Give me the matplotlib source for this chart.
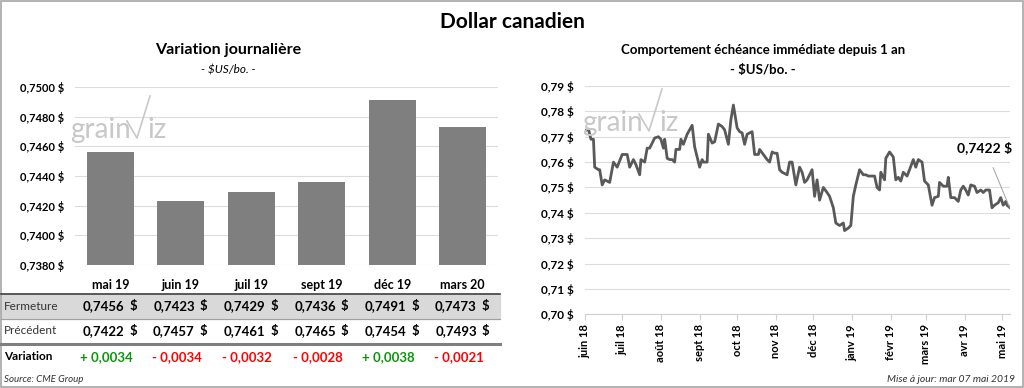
import matplotlib
matplotlib.use("Agg")
import matplotlib.pyplot as plt
import matplotlib.transforms as mtransforms
from matplotlib.lines import Line2D
from matplotlib.patches import Rectangle
import pandas as pd

plt.rcParams['font.family'] = ['Lato', 'DejaVu Sans']

# Variation journalière
echeances = ["mai 19", "juin 19", "juil 19", "sept 19", "déc 19", "mars 20"]
fermeture = [0.7456, 0.7423, 0.7429, 0.7436, 0.7491, 0.7473]
precedent = [0.7422, 0.7457, 0.7461, 0.7465, 0.7454, 0.7493]
variation = [0.0034, -0.0034, -0.0032, -0.0028, 0.0038, -0.0021]
bar_ticks = [0.7380, 0.7400, 0.7420, 0.7440, 0.7460, 0.7480, 0.7500]

# Échéance immédiate depuis 1 an
dates = ["2018-06-01", "2018-06-04", "2018-06-06", "2018-06-08", "2018-06-09", "2018-06-12",
         "2018-06-13", "2018-06-15", "2018-06-17", "2018-06-21", "2018-06-24", "2018-06-27",
         "2018-07-01", "2018-07-05", "2018-07-07", "2018-07-10", "2018-07-12", "2018-07-15",
         "2018-07-16", "2018-07-19", "2018-07-21", "2018-07-23", "2018-07-25", "2018-07-27",
         "2018-07-30", "2018-08-01", "2018-08-03", "2018-08-04", "2018-08-06", "2018-08-08",
         "2018-08-10", "2018-08-12", "2018-08-13", "2018-08-16", "2018-08-17", "2018-08-19",
         "2018-08-22", "2018-08-26", "2018-08-28", "2018-09-01", "2018-09-03", "2018-09-04",
         "2018-09-07", "2018-09-08", "2018-09-11", "2018-09-13", "2018-09-16", "2018-09-19",
         "2018-09-21", "2018-09-24", "2018-09-26", "2018-09-28", "2018-10-01", "2018-10-03",
         "2018-10-05", "2018-10-07", "2018-10-09", "2018-10-13", "2018-10-15", "2018-10-18",
         "2018-10-19", "2018-10-22", "2018-10-25", "2018-10-27", "2018-10-29", "2018-10-31",
         "2018-11-02", "2018-11-04", "2018-11-06", "2018-11-10", "2018-11-12", "2018-11-14",
         "2018-11-17", "2018-11-20", "2018-11-22", "2018-11-24", "2018-11-26", "2018-11-30",
         "2018-12-02", "2018-12-04", "2018-12-06", "2018-12-09", "2018-12-12", "2018-12-14",
         "2018-12-17", "2018-12-19", "2018-12-22", "2018-12-25", "2018-12-26", "2018-12-29",
         "2018-12-31", "2019-01-02", "2019-01-04", "2019-01-07", "2019-01-10", "2019-01-12",
         "2019-01-14", "2019-01-17", "2019-01-19", "2019-01-21", "2019-01-23", "2019-01-24",
         "2019-01-27", "2019-01-28", "2019-01-31", "2019-02-03", "2019-02-05", "2019-02-07",
         "2019-02-09", "2019-02-11", "2019-02-14", "2019-02-16", "2019-02-19", "2019-02-21",
         "2019-02-23", "2019-02-26", "2019-02-28", "2019-03-03", "2019-03-06", "2019-03-08",
         "2019-03-11", "2019-03-12", "2019-03-15", "2019-03-18", "2019-03-19", "2019-03-21",
         "2019-03-24", "2019-03-27", "2019-03-29", "2019-03-31", "2019-04-02", "2019-04-04",
         "2019-04-06", "2019-04-09", "2019-04-11", "2019-04-14", "2019-04-16", "2019-04-18",
         "2019-04-21", "2019-04-23", "2019-04-25", "2019-04-28", "2019-04-30", "2019-05-02",
         "2019-05-04", "2019-05-05", "2019-05-07"]
prix = [0.7723, 0.7730, 0.769, 0.769, 0.758, 0.757, 0.757, 0.751, 0.753, 0.752, 0.760, 0.758,
        0.763, 0.763, 0.758, 0.761, 0.759, 0.755, 0.761, 0.760, 0.7655, 0.7655, 0.7675, 0.7695,
        0.770, 0.769, 0.7655, 0.769, 0.7615, 0.761, 0.761, 0.760, 0.765, 0.765, 0.769, 0.767,
        0.771, 0.7745, 0.766, 0.758, 0.761, 0.760, 0.760, 0.771, 0.7675, 0.768, 0.775, 0.774,
        0.7727, 0.767, 0.7767, 0.7825, 0.7735, 0.772, 0.7715, 0.767, 0.771, 0.772, 0.763, 0.763,
        0.765, 0.763, 0.761, 0.760, 0.764, 0.7635, 0.7635, 0.757, 0.756, 0.755, 0.760, 0.760,
        0.751, 0.758, 0.756, 0.752, 0.753, 0.757, 0.7465, 0.753, 0.745, 0.750, 0.748, 0.7465,
        0.742, 0.736, 0.735, 0.736, 0.733, 0.734, 0.735, 0.7465, 0.751, 0.757, 0.755, 0.755,
        0.7545, 0.7545, 0.7545, 0.750, 0.749, 0.756, 0.753, 0.7615, 0.764, 0.762, 0.753, 0.754,
        0.7525, 0.756, 0.7545, 0.757, 0.761, 0.758, 0.761, 0.760, 0.7525, 0.751, 0.743, 0.746,
        0.7465, 0.752, 0.7505, 0.7505, 0.754, 0.746, 0.746, 0.7445, 0.749, 0.7505, 0.749, 0.747,
        0.751, 0.7505, 0.748, 0.749, 0.748, 0.749, 0.749, 0.742, 0.743, 0.744, 0.746, 0.743,
        0.7445, 0.743, 0.7422]
mois = ["2018-06-01", "2018-07-01", "2018-08-01", "2018-09-01", "2018-10-01", "2018-11-01",
        "2018-12-01", "2019-01-01", "2019-02-01", "2019-03-01", "2019-04-01", "2019-05-01"]
mois_labels = ["juin 18", "juil 18", "août 18", "sept 18", "oct 18", "nov 18",
               "déc 18", "janv 19", "févr 19", "mars 19", "avr 19", "mai 19"]
line_ticks = [0.70, 0.71, 0.72, 0.73, 0.74, 0.75, 0.76, 0.77, 0.78, 0.79]

W, H = 1024, 388


def fx(px):
    return px / W


def fy(py):
    return 1 - py / H


def fr(v, dec):
    return f"{v:.{dec}f}".replace(".", ",")


fig = plt.figure(figsize=(W / 100, H / 100), dpi=100)
fig.patches.append(Rectangle((0.001, 0.002), 0.998, 0.996, transform=fig.transFigure,
                             fill=False, edgecolor="#a6a6a6", linewidth=1.2))

fig.text(0.5, fy(22), "Dollar canadien", ha="center", va="center",
         fontsize=15, fontweight="bold")


def watermark(x0, y0):
    # logo grainviz en filigrane
    fig.text(fx(x0), fy(y0), "grain", fontsize=20, color="#c8c8c8", va="baseline")
    fig.lines.append(Line2D([fx(x0 + 57), fx(x0 + 67), fx(x0 + 80)],
                            [fy(y0 - 17), fy(y0), fy(y0 - 42)],
                            transform=fig.transFigure, color="#c8c8c8", lw=1.2))
    fig.text(fx(x0 + 77), fy(y0), "iz", fontsize=20, color="#c8c8c8", va="baseline")


# ---------------- Variation journalière ----------------
fig.text(fx(228), fy(50), "Variation journalière", ha="center", va="center",
         fontsize=11.5, fontweight="bold")
fig.text(fx(228), fy(70), "- $US/bo. -", ha="center", va="center",
         fontsize=8.5, style="italic")

ax1 = fig.add_axes([fx(75), fy(265), fx(498 - 75), (265 - 87) / H])
x = range(len(echeances))
ax1.bar(x, fermeture, width=0.67, color="#7f7f7f", zorder=2)
ax1.set_ylim(0.7380, 0.7500)
ax1.set_xlim(-0.5, len(echeances) - 0.5)
ax1.set_yticks(bar_ticks)
ax1.set_yticklabels([fr(v, 4) + " $" for v in bar_ticks], fontsize=8, fontweight="bold")
ax1.set_xticks([])
ax1.grid(axis="y", color="#dcdcdc", lw=0.8, zorder=0)
for s in ax1.spines.values():
    s.set_visible(False)
ax1.tick_params(axis="y", length=0, pad=8)
watermark(70, 138)

# tableau sous les barres
tr = mtransforms.blended_transform_factory(ax1.transData, fig.transFigure)
fig.patches.append(Rectangle((fx(1), fy(319)), fx(499), (319 - 294) / H,
                             transform=fig.transFigure, color="#d9d9d9", zorder=0))
fig.lines.append(Line2D([fx(1), fx(500)], [fy(294), fy(294)], transform=fig.transFigure,
                        color="#404040", lw=1.2))
fig.lines.append(Line2D([fx(1), fx(500)], [fy(319), fy(319)], transform=fig.transFigure,
                        color="#a0a0a0", lw=0.8))
fig.lines.append(Line2D([fx(1), fx(500)], [fy(344), fy(344)], transform=fig.transFigure,
                        color="#7f7f7f", lw=2.2))

fig.text(fx(4), fy(306), "Fermeture", fontsize=8.5, color="#333333", va="center")
fig.text(fx(4), fy(331), "Précédent", fontsize=8.5, color="#333333", va="center")
fig.text(fx(4), fy(357), "Variation", fontsize=8.5, fontweight="bold", va="center")
for i, name in enumerate(echeances):
    fig.text(i, fy(285), name, transform=tr, ha="center", va="center",
             fontsize=9, fontweight="bold")
    for row_y, vals in [(306, fermeture), (331, precedent)]:
        fig.text(i + 0.2, fy(row_y), fr(vals[i], 4), transform=tr, ha="right",
                 va="center", fontsize=9.5, fontweight="bold")
        fig.text(i + 0.27, fy(row_y), "$", transform=tr, ha="left",
                 va="center", fontsize=9.5, fontweight="bold")
    v = variation[i]
    sign = "+ " if v >= 0 else "- "
    fig.text(i - 0.06, fy(357), sign + fr(abs(v), 4), transform=tr, ha="center",
             va="center", fontsize=9.5, fontweight="bold",
             color="#0a960a" if v >= 0 else "#ff0000")

fig.text(fx(4), fy(379), "Source: CME Group", fontsize=7, style="italic",
         color="#333333", va="center")

# ---------------- Comportement échéance immédiate ----------------
fig.text(fx(763), fy(50), "Comportement échéance immédiate depuis 1 an", ha="center",
         va="center", fontsize=9.5, fontweight="bold")
fig.text(fx(763), fy(70), "- $US/bo. -", ha="center", va="center",
         fontsize=9.5, fontweight="bold")

ax2 = fig.add_axes([fx(584.7), fy(314.3), fx(1009.5 - 584.7), (314.3 - 86) / H])
d = pd.to_datetime(dates)
ax2.plot(d, prix, color="#595959", lw=2, zorder=3)
ax2.set_xlim(pd.Timestamp("2018-06-01"), pd.Timestamp("2019-05-07"))
ax2.set_ylim(0.70, 0.79)
ax2.set_yticks(line_ticks)
ax2.set_yticklabels([fr(v, 2) + " $" for v in line_ticks], fontsize=8.5, fontweight="bold")
ax2.set_xticks(pd.to_datetime(mois))
ax2.set_xticklabels(mois_labels, rotation=90, fontsize=8, fontweight="bold")
ax2.grid(axis="y", color="#dcdcdc", lw=0.8, zorder=0)
for k in ["top", "right", "left"]:
    ax2.spines[k].set_visible(False)
ax2.spines["bottom"].set_color("#d0d0d0")
ax2.tick_params(axis="y", length=0, pad=8)
ax2.tick_params(axis="x", length=4, color="#d0d0d0", pad=3)
watermark(582, 131)

ax2.annotate(fr(prix[-1], 4) + " $", xy=(d[-1], prix[-1]), xytext=(985, H - 148),
             textcoords="figure pixels", fontsize=10, fontweight="bold", ha="center",
             va="center", annotation_clip=False,
             arrowprops=dict(arrowstyle="-", color="#a0a0a0", lw=0.7, shrinkA=8, shrinkB=0))

fig.text(fx(1015), fy(379), "Mise à jour: mar 07 mai 2019", fontsize=7.5, style="italic",
         color="#333333", ha="right", va="center")

fig.savefig("out.png", dpi=100)
